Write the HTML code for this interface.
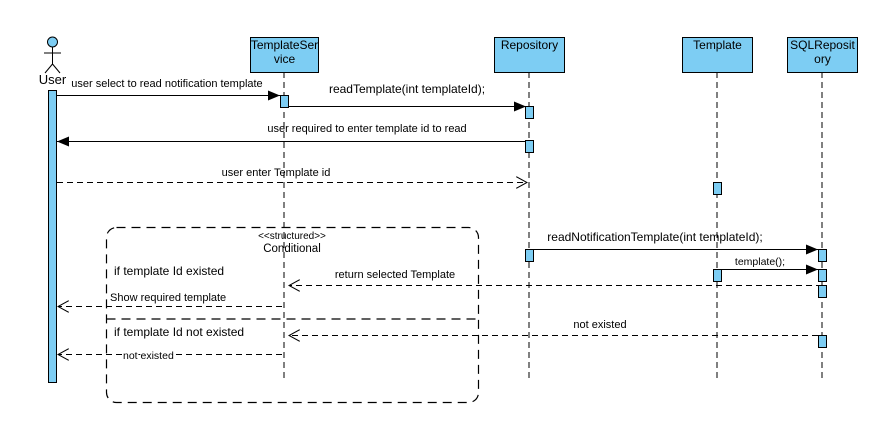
<!DOCTYPE html>
<html><head><meta charset="utf-8"><style>
html,body{margin:0;padding:0;background:#fff;}
svg{display:block;}
text{font-family:"Liberation Sans",Arial,sans-serif;fill:#000;}
</style></head><body>
<svg width="892" height="442" viewBox="0 0 892 442" xmlns="http://www.w3.org/2000/svg">
<defs>
<marker id="fa" markerWidth="12" markerHeight="10" refX="12" refY="5" orient="auto" markerUnits="userSpaceOnUse"><path d="M0,0 L12,5 L0,10 z" fill="#000"/></marker>
<marker id="oa" markerWidth="12" markerHeight="12" refX="11" refY="6" orient="auto" markerUnits="userSpaceOnUse"><path d="M0,0 L11,6 L0,12" fill="none" stroke="#000" stroke-width="1"/></marker>
</defs>
<!-- lifelines -->
<g stroke="#000" stroke-width="1" stroke-dasharray="6,4">
<line x1="284" y1="72" x2="284" y2="382"/>
<line x1="529" y1="72" x2="529" y2="382"/>
<line x1="717" y1="72" x2="717" y2="382"/>
<line x1="822" y1="72" x2="822" y2="382"/>
</g>
<!-- header boxes -->
<g fill="#7dcdf3" stroke="#000" stroke-width="1">
<rect x="250.5" y="37.5" width="68" height="35"/>
<rect x="494.5" y="37.5" width="70" height="35"/>
<rect x="682.5" y="37.5" width="70" height="35"/>
<rect x="787.5" y="37.5" width="70" height="35"/>
</g>
<g font-size="12" text-anchor="middle">
<text x="284.5" y="49">TemplateSer</text>
<text x="284.5" y="63">vice</text>
<text x="529.5" y="49">Repository</text>
<text x="717.5" y="49">Template</text>
<text x="822.5" y="49">SQLReposit</text>
<text x="822.5" y="63">ory</text>
</g>
<!-- actor -->
<g stroke="#000" stroke-width="1" fill="none">
<circle cx="52.5" cy="42" r="5" fill="#7dcdf3"/>
<line x1="52.5" y1="47" x2="52.5" y2="64"/>
<line x1="44" y1="53" x2="61" y2="53"/>
<line x1="52.5" y1="64" x2="45" y2="73"/>
<line x1="52.5" y1="64" x2="60" y2="73"/>
</g>
<text x="52.5" y="84" font-size="13" text-anchor="middle">User</text>
<!-- conditional frame -->
<g stroke="#000" stroke-width="1.2" fill="none" stroke-dasharray="9,6">
<rect x="106.5" y="227.5" width="372" height="175" rx="10"/>
<line x1="106.5" y1="319" x2="478.5" y2="319"/>
</g>
<text x="292" y="239" font-size="10" text-anchor="middle">&lt;&lt;structured&gt;&gt;</text>
<text x="292" y="252" font-size="11.5" text-anchor="middle">Conditional</text>
<text x="114" y="275" font-size="12">if template Id existed</text>
<text x="114" y="336" font-size="12">if template Id not existed</text>
<!-- messages -->
<g stroke="#000" stroke-width="1" fill="none">
<line x1="57" y1="95.5" x2="280" y2="95.5" marker-end="url(#fa)"/>
<line x1="288" y1="106.5" x2="526" y2="106.5" marker-end="url(#fa)"/>
<line x1="526" y1="141.5" x2="57" y2="141.5" marker-end="url(#fa)"/>
<line x1="57" y1="182.5" x2="527" y2="182.5" stroke-dasharray="6,4" marker-end="url(#oa)"/>
<line x1="534" y1="249.5" x2="818" y2="249.5" marker-end="url(#fa)"/>
<line x1="721" y1="269.5" x2="818" y2="269.5" marker-end="url(#fa)"/>
<line x1="822" y1="285.5" x2="289" y2="285.5" stroke-dasharray="6,4" marker-end="url(#oa)"/>
<line x1="282" y1="306.5" x2="58" y2="306.5" stroke-dasharray="6,4" marker-end="url(#oa)"/>
<line x1="818" y1="335.5" x2="289" y2="335.5" stroke-dasharray="6,4" marker-end="url(#oa)"/>
<line x1="282" y1="354.5" x2="58" y2="354.5" stroke-dasharray="6,4" marker-end="url(#oa)"/>
</g>
<!-- activations -->
<g fill="#7dcdf3" stroke="#000" stroke-width="1">
<rect x="48.5" y="90.5" width="8" height="292"/>
<rect x="280.5" y="95.5" width="8" height="12"/>
<rect x="525.5" y="106.5" width="8" height="12"/>
<rect x="525.5" y="140.5" width="8" height="12"/>
<rect x="713.5" y="182.5" width="8" height="12"/>
<rect x="525.5" y="249.5" width="8" height="12"/>
<rect x="818.5" y="249.5" width="8" height="12"/>
<rect x="713.5" y="269.5" width="8" height="12"/>
<rect x="818.5" y="269.5" width="8" height="12"/>
<rect x="818.5" y="285.5" width="8" height="12"/>
<rect x="818.5" y="335.5" width="8" height="12"/>
</g>
<!-- labels -->
<g font-size="11">
<text x="167" y="87" text-anchor="middle">user select to read notification template</text>
<text x="407" y="93" text-anchor="middle" font-size="12">readTemplate(int templateId);</text>
<text x="367" y="132" text-anchor="middle">user required to enter template id to read</text>
<text x="276" y="176" text-anchor="middle">user enter Template id</text>
<text x="655" y="241" text-anchor="middle" font-size="12">readNotificationTemplate(int templateId);</text>
<text x="760" y="265" text-anchor="middle" font-size="10.5">template();</text>
<text x="395" y="278" text-anchor="middle">return selected Template</text>
<text x="110" y="301">Show required template</text>
<text x="600" y="328" text-anchor="middle">not existed</text>
<text x="123" y="359" font-size="10.5" style="paint-order:stroke" stroke="#fff" stroke-width="2">not existed</text>
</g>
</svg>
</body></html>
